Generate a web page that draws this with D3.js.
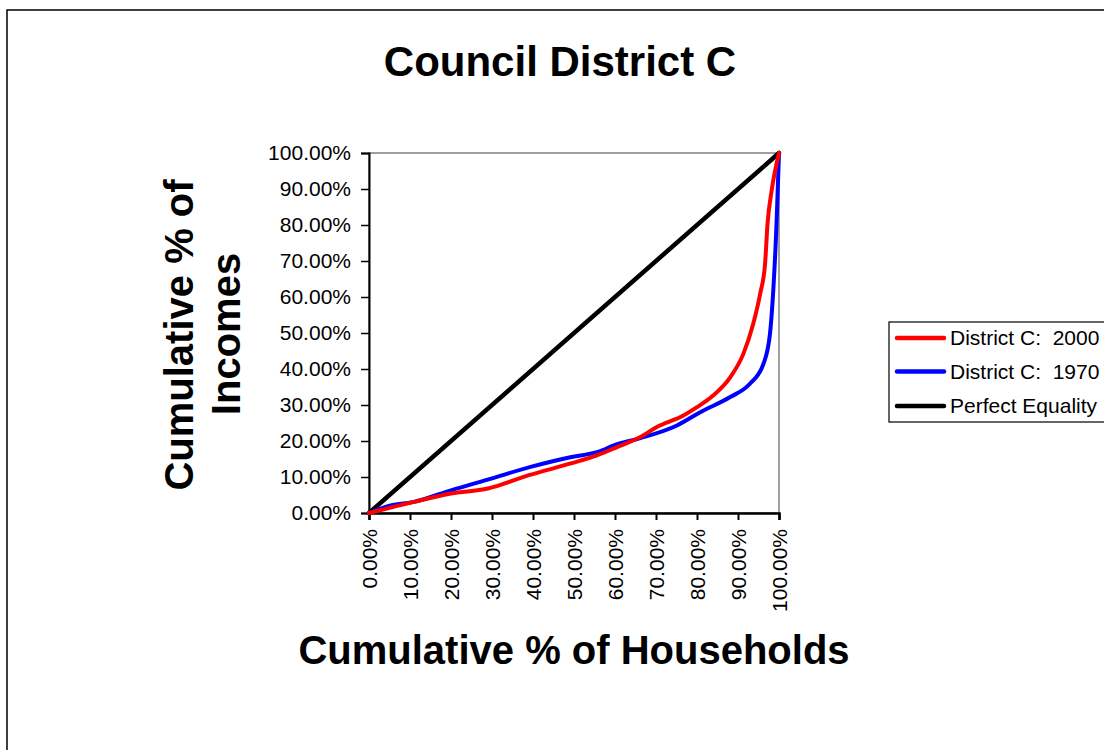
<!DOCTYPE html>
<html>
<head>
<meta charset="utf-8">
<script src="https://cdn.jsdelivr.net/npm/d3@7"></script>
<style>
  html, body { margin: 0; padding: 0; background: #fff; }
  svg { display: block; font-family: "Liberation Sans", Arial, sans-serif; }
</style>
</head>
<body>
<svg id="chart" width="1104" height="750"></svg>
<script>
// Lorenz curves: cumulative share of households (x) vs cumulative share of income (y)
const households2000 = [0, 0.11, 0.20, 0.29, 0.39, 0.49, 0.556, 0.605, 0.662, 0.702, 0.767, 0.80, 0.84, 0.881, 0.913, 0.937, 0.954, 0.966, 0.972, 0.982, 1];
const income2000     = [0, 0.031, 0.054, 0.068, 0.105, 0.137, 0.160, 0.183, 0.211, 0.239, 0.271, 0.294, 0.327, 0.377, 0.442, 0.525, 0.609, 0.692, 0.803, 0.895, 1];

const households1970 = [0, 0.053, 0.11, 0.20, 0.296, 0.394, 0.491, 0.556, 0.605, 0.662, 0.751, 0.808, 0.881, 0.929, 0.962, 0.978, 0.986, 0.994, 1];
const income1970     = [0, 0.021, 0.031, 0.063, 0.095, 0.128, 0.155, 0.169, 0.191, 0.208, 0.243, 0.280, 0.322, 0.359, 0.414, 0.498, 0.618, 0.803, 1];

const equalityX = [0, 1];
const equalityY = [0, 1];

const seriesNames = ["District C:  2000", "District C:  1970", "Perfect Equality"];
const seriesColors = ["#ff0000", "#0000ff", "#000000"];
const tickValues = [0, 0.1, 0.2, 0.3, 0.4, 0.5, 0.6, 0.7, 0.8, 0.9, 1.0];

const FONT = "'Liberation Sans', Arial, sans-serif";
const svg = d3.select("#chart");

// outer chart frame
svg.append("rect")
  .attr("x", 7).attr("y", 10).attr("width", 1110).attr("height", 760)
  .attr("fill", "#fff").attr("stroke", "#000").attr("stroke-width", 1.5);

const plot = { left: 369, top: 153, right: 779, bottom: 513 };

const x = d3.scaleLinear().domain([0, 1]).range([plot.left, plot.right]);
const y = d3.scaleLinear().domain([0, 1]).range([plot.bottom, plot.top]);
const fmt = d3.format(".2%");

// plot area border (top/right in gray)
svg.append("rect")
  .attr("x", plot.left).attr("y", plot.top)
  .attr("width", plot.right - plot.left).attr("height", plot.bottom - plot.top)
  .attr("fill", "none").attr("stroke", "#808080").attr("stroke-width", 1.5);

// Y axis
const yAxis = svg.append("g")
  .attr("transform", `translate(${plot.left},0)`)
  .call(d3.axisLeft(y).tickValues(tickValues).tickFormat(fmt).tickSize(8).tickPadding(10))
  .attr("font-size", 21).attr("font-family", FONT);
yAxis.select(".domain").attr("stroke", "#000").attr("stroke-width", 2);
yAxis.selectAll(".tick line").attr("stroke", "#000").attr("stroke-width", 1.5);
yAxis.selectAll(".tick text").attr("fill", "#000");

// X axis
const xAxis = svg.append("g")
  .attr("transform", `translate(0,${plot.bottom})`)
  .call(d3.axisBottom(x).tickValues(tickValues).tickFormat(fmt).tickSize(7).tickPadding(0))
  .attr("font-size", 21).attr("font-family", FONT);
xAxis.select(".domain").attr("stroke", "#000").attr("stroke-width", 2.5);
xAxis.selectAll(".tick line").attr("stroke", "#000").attr("stroke-width", 2);
xAxis.selectAll(".tick text")
  .attr("fill", "#000")
  .attr("transform", "rotate(-90)")
  .attr("text-anchor", "end")
  .attr("dy", "0.35em")
  .attr("x", -16)
  .attr("y", 0);

// Lines
const line = d3.line()
  .x(d => x(d[0]))
  .y(d => y(d[1]))
  .curve(d3.curveMonotoneX);

const seriesData = [
  d3.zip(households2000, income2000),
  d3.zip(households1970, income1970),
  d3.zip(equalityX, equalityY)
];

// draw equality first, then 1970, then 2000 on top
[2, 1, 0].forEach(i => {
  svg.append("path")
    .datum(seriesData[i])
    .attr("d", line)
    .attr("fill", "none")
    .attr("stroke", seriesColors[i])
    .attr("stroke-width", i === 2 ? 4.5 : 4)
    .attr("stroke-linejoin", "round")
    .attr("stroke-linecap", "round");
});

// Title
svg.append("text")
  .attr("x", 560).attr("y", 76)
  .attr("text-anchor", "middle")
  .attr("font-size", 42).attr("font-weight", "bold")
  .text("Council District C");

// X axis title
svg.append("text")
  .attr("x", 574).attr("y", 664)
  .attr("text-anchor", "middle")
  .attr("font-size", 40).attr("font-weight", "bold")
  .text("Cumulative % of Households");

// Y axis title (two lines)
const yTitle = svg.append("text")
  .attr("transform", "rotate(-90)")
  .attr("text-anchor", "middle")
  .attr("font-size", 40).attr("font-weight", "bold");
yTitle.append("tspan").attr("x", -335).attr("y", 193).text("Cumulative % of");
yTitle.append("tspan").attr("x", -334).attr("y", 240).text("Incomes");

// Legend
const legend = svg.append("g");
legend.append("rect")
  .attr("x", 889).attr("y", 322).attr("width", 240).attr("height", 100)
  .attr("fill", "#fff").attr("stroke", "#000").attr("stroke-width", 1.2);
const rowY = [338, 371.5, 406];
seriesNames.forEach((name, i) => {
  legend.append("line")
    .attr("x1", 897).attr("x2", 944)
    .attr("y1", rowY[i]).attr("y2", rowY[i])
    .attr("stroke", seriesColors[i]).attr("stroke-width", 4.5)
    .attr("stroke-linecap", "round");
  legend.append("text")
    .attr("x", 950).attr("y", rowY[i])
    .attr("dy", "0.35em")
    .attr("font-size", 21)
    .attr("xml:space", "preserve")
    .style("white-space", "pre")
    .text(name);
});
</script>
</body>
</html>
